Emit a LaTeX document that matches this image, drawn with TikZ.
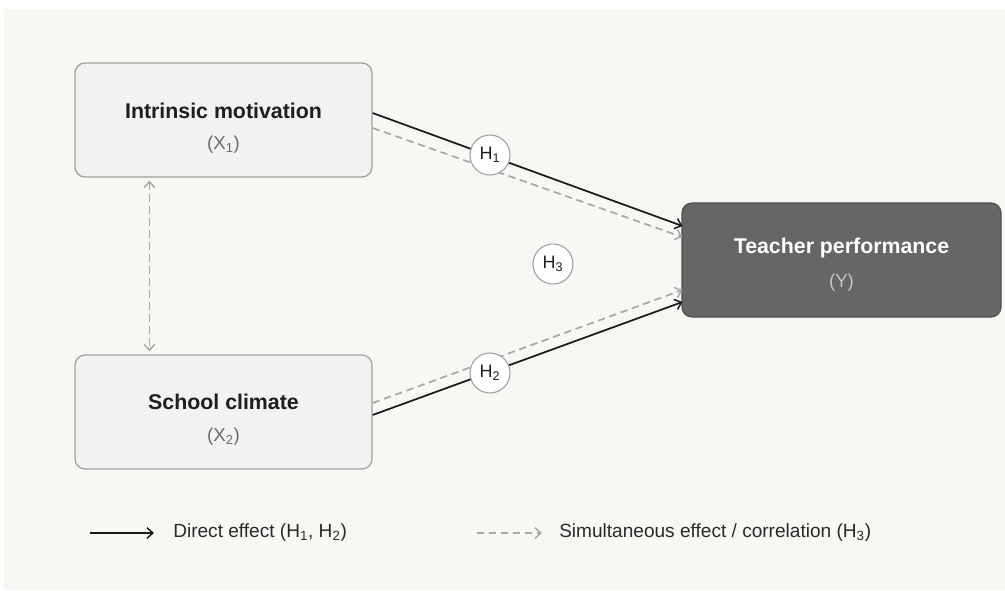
\documentclass[tikz,border=0pt]{standalone}
\usepackage{fontspec}
\setmainfont{Liberation Sans}
\usetikzlibrary{arrows.meta,calc}
\definecolor{bgc}{HTML}{F8F7F4}
\definecolor{boxfill}{HTML}{F2F2F1}
\definecolor{boxdraw}{HTML}{A0A0A0}
\definecolor{darkfill}{HTML}{666666}
\definecolor{darkdraw}{HTML}{505050}
\definecolor{titlec}{HTML}{1E1E1E}
\definecolor{subc}{HTML}{6B6B6B}
\definecolor{ysubc}{HTML}{C4C4C4}
\definecolor{dashc}{HTML}{A8A8A8}
\definecolor{solidc}{HTML}{1A1A1A}
\definecolor{legc}{HTML}{2A2A2A}
\tikzset{
  varbox/.style={draw=boxdraw, fill=boxfill, line width=0.9pt, rounded corners=7.5pt, minimum width=222.75pt, minimum height=85.5pt, inner sep=0pt},
  outbox/.style={draw=darkdraw, fill=darkfill, line width=0.9pt, rounded corners=7.5pt, minimum width=239.25pt, minimum height=85.5pt, inner sep=0pt},
  titletext/.style={font=\fontsize{16}{19}\selectfont\bfseries, text=titlec, inner sep=0pt},
  subtext/.style={font=\fontsize{14}{17}\selectfont, text=subc, inner sep=0pt},
  hyp/.style={circle, draw=boxdraw, fill=white, line width=0.8pt, minimum size=30pt, inner sep=0pt, font=\fontsize{13.5}{16}\selectfont, text=titlec},
  direct/.style={draw=solidc, line width=1.3pt, -{Straight Barb[length=4.5pt,width=8pt,line width=1.1pt]}},
  simult/.style={draw=dashc, line width=1.3pt, dash pattern=on 5.5pt off 3.5pt, -{Straight Barb[length=4.5pt,width=8pt,line width=1.1pt]}},
  corr/.style={draw=dashc, line width=1.3pt, dash pattern=on 5.5pt off 3.5pt, {Straight Barb[length=4.5pt,width=8pt,line width=1.1pt]}-{Straight Barb[length=4.5pt,width=8pt,line width=1.1pt]}},
  legtext/.style={font=\fontsize{14.3}{17}\selectfont, text=legc, inner sep=0pt, anchor=west}
}
\begin{document}
\begin{tikzpicture}[x=0.75pt, y=-0.75pt]
\useasboundingbox (0,0) rectangle (1005,590);
\fill[white] (0,0) rectangle (1005,590);
\fill[bgc] (4,9) rectangle (1005,590);

% boxes
\node[varbox] (X1) at (223.5,120) {};
\node[varbox] (X2) at (223.5,412) {};
\node[outbox] (Y) at (841.5,260) {};

\node[titletext] (X1t) at (223.5,111) {Intrinsic motivation};
\node[subtext] (X1s) at (223.5,145) {(X\textsubscript{1})};
\node[titletext] (X2t) at (223.5,402) {School climate};
\node[subtext] (X2s) at (223.5,437) {(X\textsubscript{2})};
\node[titletext, text=white] (Yt) at (841.5,248) {Teacher performance};
\node[subtext, text=ysubc] (Ys) at (841.5,283) {(Y)};

% connectors
\draw[simult] ($(X1.east)+(0,8)$) -- ($(Y.west)+(1,-23)$);
\draw[direct] ($(X1.east)+(0,-7)$) -- ($(Y.west)+(1,-34)$);
\draw[simult] ($(X2.east)+(0,-9)$) -- ($(Y.west)+(1,30)$);
\draw[direct] ($(X2.east)+(0,3)$) -- ($(Y.west)+(1,42)$);
\draw[corr] ($(X1.south west)+(75,3)$) -- ($(X2.north west)+(75,-3)$);

% hypothesis circles
\node[hyp] (H1) at (490,155) {H\textsubscript{1}};
\node[hyp] (H2) at (490,373) {H\textsubscript{2}};
\node[hyp] (H3) at (553,264) {H\textsubscript{3}};

% legend
\coordinate (L1a) at (90,533);
\coordinate (L1b) at (154,533);
\coordinate (L2a) at (477,533);
\coordinate (L2b) at (542,533);
\draw[direct] (L1a) -- (L1b);
\node[legtext] (L1t) at (173,533) {Direct effect (H\textsubscript{1}, H\textsubscript{2})};
\draw[simult] (L2a) -- (L2b);
\node[legtext] (L2t) at (559,533) {Simultaneous effect / correlation (H\textsubscript{3})};
\end{tikzpicture}
\end{document}
